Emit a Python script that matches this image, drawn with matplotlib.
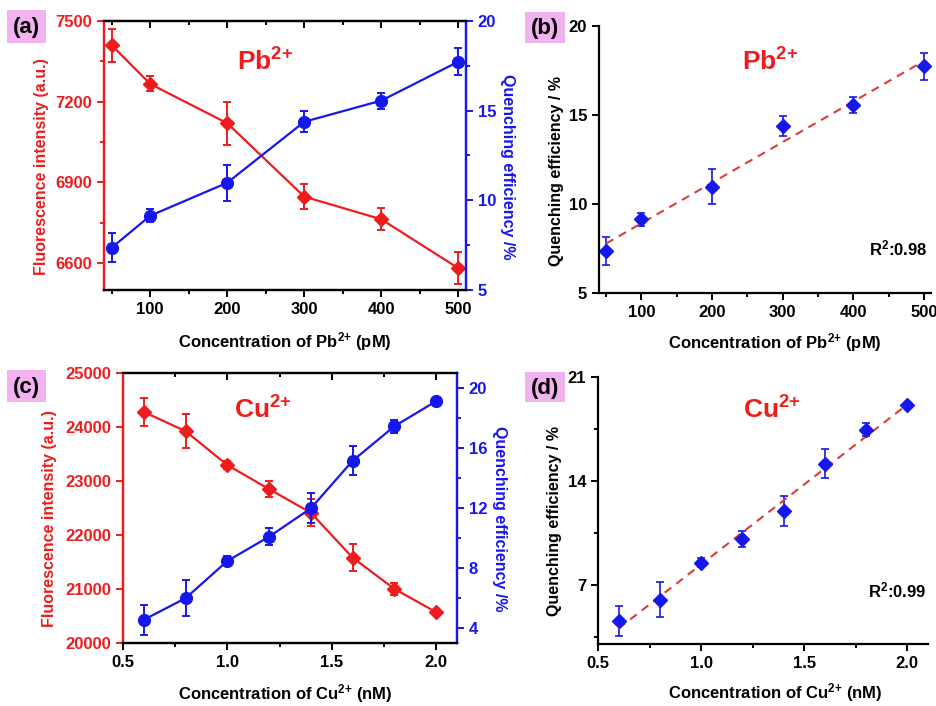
import numpy as np
import matplotlib
matplotlib.use('Agg')
import matplotlib.pyplot as plt
from matplotlib.ticker import MultipleLocator
from matplotlib.patches import FancyBboxPatch

plt.rcParams['font.family'] = 'Liberation Sans'
plt.rcParams['font.weight'] = 'bold'
plt.rcParams['mathtext.fontset'] = 'custom'
plt.rcParams['mathtext.rm'] = 'Liberation Sans:bold'
plt.rcParams['mathtext.it'] = 'Liberation Sans:bold'
plt.rcParams['mathtext.bf'] = 'Liberation Sans:bold'

# Pb2+ data
pb_conc = [50, 100, 200, 300, 400, 500]
pb_fl = [7410, 7266, 7120, 6847, 6763, 6581]
pb_fl_err = [62, 28, 80, 47, 40, 59]
pb_qe = [7.36, 9.14, 10.98, 14.38, 15.56, 17.73]
pb_qe_err = [0.8, 0.37, 1.0, 0.58, 0.45, 0.75]

# Cu2+ data
cu_conc = [0.6, 0.8, 1.0, 1.2, 1.4, 1.6, 1.8, 2.0]
cu_fl = [24279, 23922, 23294, 22850, 22412, 21580, 21002, 20571]
cu_fl_err = [260, 310, 80, 155, 250, 245, 110, 30]
cu_qe = [4.55, 5.99, 8.47, 10.09, 11.98, 15.15, 17.45, 19.12]
cu_qe_err = [1.0, 1.2, 0.3, 0.55, 1.0, 0.97, 0.45, 0.1]

RED = '#ee1c1c'
BLUE = '#1616ee'
PINK = '#f2b2f0'
W, H = 937, 706
PB = r'Pb$^{2{+}}$'
CU = r'Cu$^{2{+}}$'

fig = plt.figure(figsize=(W / 100, H / 100), dpi=100)


def px_axes(l, t, r, b):
    return fig.add_axes([l / W, 1 - b / H, (r - l) / W, (b - t) / H])


def ftext(x, y, s, **kw):
    fig.text(x / W, 1 - y / H, s, ha='center', va='center', **kw)


def panel_tag(x0, y0, x1, y1, s):
    fig.patches.append(FancyBboxPatch((x0 / W, 1 - y1 / H), (x1 - x0) / W, (y1 - y0) / H,
                                      boxstyle='square,pad=0', fc=PINK, ec='none',
                                      transform=fig.transFigure, figure=fig))
    ftext((x0 + x1) / 2, (y0 + y1) / 2 + 1, s, fontsize=16, color='black')


def style_dual(ax, ax2):
    for a in (ax, ax2):
        a.spines['left'].set_color(RED)
        a.spines['right'].set_color(BLUE)
        for s in a.spines.values():
            s.set_linewidth(1.6)
    ax.tick_params(axis='y', which='both', colors=RED, labelsize=12, width=1.4, direction='out')
    ax.tick_params(axis='y', which='major', length=5)
    ax.tick_params(axis='y', which='minor', length=3)
    ax2.tick_params(axis='y', which='both', colors=BLUE, labelsize=12, width=1.4, direction='out')
    ax2.tick_params(axis='y', which='major', length=5)
    ax2.tick_params(axis='y', which='minor', length=3)
    # bottom ticks outward
    ax.tick_params(axis='x', which='both', labelsize=12, width=1.4, direction='out', top=False)
    ax.tick_params(axis='x', which='major', length=5)
    ax.tick_params(axis='x', which='minor', length=3)
    # top ticks inward, drawn by the twin axes
    ax2.xaxis.set_visible(True)
    ax2.tick_params(axis='x', which='both', top=True, bottom=False, labeltop=False,
                    labelbottom=False, direction='in', width=1.4)
    ax2.tick_params(axis='x', which='major', length=5)
    ax2.tick_params(axis='x', which='minor', length=3)


def style_single(ax):
    ax.spines['top'].set_visible(False)
    ax.spines['right'].set_visible(False)
    for s in ('left', 'bottom'):
        ax.spines[s].set_linewidth(1.6)
    ax.tick_params(which='both', labelsize=12, width=1.4, direction='out')
    ax.tick_params(which='major', length=5)
    ax.tick_params(which='minor', length=3)


# ---- (a)
ax = px_axes(104, 21, 466, 290)
ax2 = ax.twinx()
ax.errorbar(pb_conc, pb_fl, yerr=pb_fl_err, color=RED, marker='D', ms=7, lw=1.6,
            capsize=3, elinewidth=1.4, capthick=1.4)
ax2.errorbar(pb_conc, pb_qe, yerr=pb_qe_err, color=BLUE, marker='o', ms=8.5, lw=1.6,
             capsize=3, elinewidth=1.4, capthick=1.4)
ax.set_xlim(40, 510)
ax.set_ylim(6500, 7500)
ax2.set_ylim(5, 20)
ax.set_xticks([100, 200, 300, 400, 500])
ax.xaxis.set_minor_locator(MultipleLocator(50))
ax.set_yticks([6600, 6900, 7200, 7500])
ax.yaxis.set_minor_locator(MultipleLocator(150))
ax2.set_yticks([5, 10, 15, 20])
ax2.yaxis.set_minor_locator(MultipleLocator(2.5))
style_dual(ax, ax2)
ftext(265, 62, PB, color=RED, fontsize=19)
ftext(42, 167, 'Fluorescence intensity (a.u.)', color=RED, fontsize=11.5, rotation=90)
ftext(508, 167, 'Quenching efficiency /%', color=BLUE, fontsize=11.5, rotation=270)
ftext(285, 342, r'Concentration of Pb$^{2{+}}$ (pM)', fontsize=12)
panel_tag(7, 10, 46, 43, '(a)')

# ---- (b)
bx = px_axes(599, 26, 931, 293)
bx.errorbar(pb_conc, pb_qe, yerr=pb_qe_err, color=BLUE, marker='D', ms=7, ls='none',
            capsize=3, elinewidth=1.2, capthick=1.2)
k, c = np.polyfit(pb_conc, pb_qe, 1)
xf = np.array([pb_conc[0], pb_conc[-1]])
bx.plot(xf, k * xf + c, ls=(0, (4, 3)), color='#e03a3a', lw=1.5)
bx.set_xlim(40, 510)
bx.set_ylim(5, 20)
bx.set_xticks([100, 200, 300, 400, 500])
bx.xaxis.set_minor_locator(MultipleLocator(50))
bx.set_yticks([5, 10, 15, 20])
style_single(bx)
ftext(770, 62, PB, color=RED, fontsize=19)
ftext(898, 248, r'R$^{2}$:0.98', fontsize=12)
ftext(557, 171, 'Quenching efficiency / %', fontsize=11.5, rotation=90)
ftext(775, 343, r'Concentration of Pb$^{2{+}}$ (pM)', fontsize=12)
panel_tag(525, 12, 565, 43, '(b)')

# ---- (c)
cx = px_axes(123, 373, 457, 643)
cx2 = cx.twinx()
cx.errorbar(cu_conc, cu_fl, yerr=cu_fl_err, color=RED, marker='D', ms=7, lw=1.6,
            capsize=3, elinewidth=1.4, capthick=1.4)
cx2.errorbar(cu_conc, cu_qe, yerr=cu_qe_err, color=BLUE, marker='o', ms=8.5, lw=1.6,
             capsize=3, elinewidth=1.4, capthick=1.4)
cx.set_xlim(0.5, 2.1)
cx.set_ylim(20000, 25000)
cx2.set_ylim(3, 21)
cx.set_xticks([0.5, 1.0, 1.5, 2.0])
cx.xaxis.set_minor_locator(MultipleLocator(0.25))
cx.set_yticks([20000, 21000, 22000, 23000, 24000, 25000])
cx2.set_yticks([4, 8, 12, 16, 20])
cx2.yaxis.set_minor_locator(MultipleLocator(2))
style_dual(cx, cx2)
ftext(263, 410, CU, color=RED, fontsize=19)
ftext(50, 519, 'Fluorescence intensity (a.u.)', color=RED, fontsize=11.5, rotation=90)
ftext(500, 519, 'Quenching efficiency /%', color=BLUE, fontsize=11.5, rotation=270)
ftext(285, 694, r'Concentration of Cu$^{2{+}}$ (nM)', fontsize=12)
panel_tag(7, 370, 46, 402, '(c)')

# ---- (d)
dx = px_axes(598, 377, 928, 644)
dx.errorbar(cu_conc, cu_qe, yerr=cu_qe_err, color=BLUE, marker='D', ms=7, ls='none',
            capsize=3, elinewidth=1.2, capthick=1.2)
k, c = np.polyfit(cu_conc, cu_qe, 1)
xf = np.array([cu_conc[0], cu_conc[-1]])
dx.plot(xf, k * xf + c, ls=(0, (4, 3)), color='#e03a3a', lw=1.5)
dx.set_xlim(0.5, 2.1)
dx.set_ylim(3, 21)
dx.set_xticks([0.5, 1.0, 1.5, 2.0])
dx.xaxis.set_minor_locator(MultipleLocator(0.25))
dx.set_yticks([7, 14, 21])
dx.yaxis.set_minor_locator(MultipleLocator(3.5))
style_single(dx)
ftext(772, 410, CU, color=RED, fontsize=19)
ftext(897, 590, r'R$^{2}$:0.99', fontsize=12)
ftext(555, 521, 'Quenching efficiency / %', fontsize=11.5, rotation=90)
ftext(775, 693, r'Concentration of Cu$^{2{+}}$ (nM)', fontsize=12)
panel_tag(525, 372, 565, 402, '(d)')

fig.savefig('out.png', dpi=100)
